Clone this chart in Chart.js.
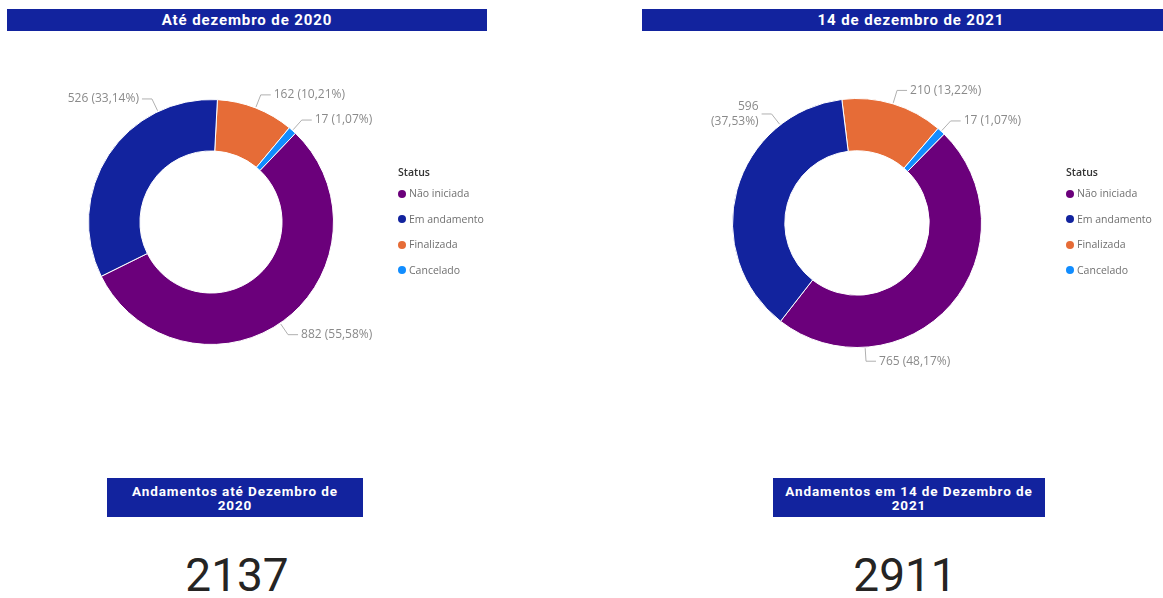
<!DOCTYPE html>
<html>
<head>
<meta charset="utf-8">
<script src="https://cdn.jsdelivr.net/npm/chart.js@4.4.1/dist/chart.umd.min.js"></script>
<style>
  html, body { margin: 0; padding: 0; background: #fff; }
  body { width: 1163px; height: 598px; position: relative; overflow: hidden; font-family: 'Segoe UI', 'Open Sans', sans-serif; }
  .bar { position: absolute; background: #12239e; color: #fff; font: 700 15px Roboto, sans-serif; letter-spacing: 0.9px; text-align: center; }
  .title { top: 9px; height: 22px; line-height: 22px; }
  .card-title { top: 478px; height: 39px; font-size: 13.5px; letter-spacing: 0.9px; line-height: 14px; display: flex; align-items: center; justify-content: center; }
  .num { position: absolute; top: 548px; font: 400 46px Roboto, sans-serif; color: #252423; text-align: center; }
  .wrap { position: absolute; }
  .legend { position: absolute; font-size: 10.5px; color: #707070; }
  .legend .head { color: #333; font-weight: 600; height: 20px; }
  .legend .item { height: 25.5px; line-height: 16px; white-space: nowrap; }
  .legend .dot { display: inline-block; width: 8px; height: 8px; border-radius: 50%; margin-right: 3px; vertical-align: -0.5px; }
</style>
</head>
<body>
<div class="bar title" style="left:7px; width:480px;">Até dezembro de 2020</div>
<div class="bar title" style="left:642px; width:538px;">14 de dezembro de 2021</div>

<div class="wrap" style="left:40px; top:60px; width:360px; height:330px;"><canvas id="chart2020"></canvas></div>
<div class="wrap" style="left:690px; top:60px; width:380px; height:330px;"><canvas id="chart2021"></canvas></div>

<div class="legend" id="legend2020" style="left:398px; top:165px;"></div>
<div class="legend" id="legend2021" style="left:1066px; top:165px;"></div>

<div class="bar card-title" style="left:107px; width:256px;">Andamentos até Dezembro de<br>2020</div>
<div class="bar card-title" style="left:773px; width:272px;">Andamentos em 14 de Dezembro de<br>2021</div>
<div class="num" id="num2020" style="left:137px; width:200px;"></div>
<div class="num" id="num2021" style="left:805px; width:200px;"></div>

<script>
// categories, in legend order
const statusLabels = ['Não iniciada', 'Em andamento', 'Finalizada', 'Cancelado'];
const statusColors = ['#6b007b', '#12239e', '#e66c37', '#118dff'];

// counts per status (legend order)
const values2020 = [882, 526, 162, 17];
const values2021 = [765, 596, 210, 17];

// card totals
const total2020 = 2137;
const total2021 = 2911;

// Power BI draws slices starting with Finalizada, then Cancelado, Não iniciada, Em andamento
const drawOrder = [2, 3, 0, 1];

// Outside labels with an elbow leader line, Power BI style
const leaderLabels = {
  id: 'leaderLabels',
  afterDatasetsDraw(chart, args, opts) {
    const { ctx } = chart;
    const meta = chart.getDatasetMeta(0);
    const data = chart.data.datasets[0].data;
    const total = data.reduce((a, b) => a + b, 0);
    ctx.save();
    ctx.font = opts.font;
    ctx.lineWidth = 1;
    ctx.textBaseline = 'middle';
    meta.data.forEach((arc, i) => {
      const { x, y, startAngle, endAngle, outerRadius } =
        arc.getProps(['x', 'y', 'startAngle', 'endAngle', 'outerRadius'], true);
      const a = startAngle + (endAngle - startAngle) * opts.anchor[i];
      const cos = Math.cos(a), sin = Math.sin(a);
      const x0 = x + cos * (outerRadius + 1), y0 = y + sin * (outerRadius + 1);
      const x1 = x + cos * (outerRadius + opts.ext), y1 = y + sin * (outerRadius + opts.ext);
      const right = cos >= 0;
      const x2 = x1 + (right ? opts.hor : -opts.hor);

      ctx.strokeStyle = opts.lineColor;
      ctx.beginPath();
      ctx.moveTo(x0, y0);
      ctx.lineTo(x1, y1);
      ctx.lineTo(x2, y1);
      ctx.stroke();

      const pct = (data[i] / total * 100).toFixed(2).replace('.', ',');
      let lines = [`${data[i]} (${pct}%)`];
      const tx = right ? x2 + opts.gap : x2 - opts.gap;
      // wrap onto two lines when the label would run past the visual's left edge
      if (!right && tx - ctx.measureText(lines[0]).width < 12) {
        lines = [`${data[i]}`, `(${pct}%)`];
      }
      ctx.fillStyle = opts.color;
      ctx.textAlign = right ? 'left' : 'right';
      const lh = 15;
      lines.forEach((t, k) => {
        ctx.fillText(t, tx, y1 + (k - (lines.length - 1) / 2) * lh);
      });
    });
    ctx.restore();
  }
};

function makeDonut(id, values, rotation, padding, anchor) {
  return new Chart(document.getElementById(id), {
    type: 'doughnut',
    data: {
      labels: drawOrder.map(k => statusLabels[k]),
      datasets: [{
        data: drawOrder.map(k => values[k]),
        backgroundColor: drawOrder.map(k => statusColors[k]),
        borderColor: '#ffffff',
        borderWidth: 1
      }]
    },
    options: {
      responsive: true,
      maintainAspectRatio: false,
      animation: false,
      cutout: '58%',
      rotation: rotation,
      layout: { padding: padding },
      plugins: {
        legend: { display: false },
        tooltip: { enabled: false },
        leaderLabels: {
          font: '12px "Segoe UI", "Open Sans", sans-serif',
          color: '#8a8a8a',
          lineColor: '#b0b0b0',
          ext: 14,
          hor: 10,
          gap: 3,
          anchor: anchor
        }
      }
    },
    plugins: [leaderLabels]
  });
}

function buildLegend(id) {
  const el = document.getElementById(id);
  let html = '<div class="head">Status</div>';
  statusLabels.forEach((name, i) => {
    html += `<div class="item"><span class="dot" style="background:${statusColors[i]}"></span>${name}</div>`;
  });
  el.innerHTML = html;
}

makeDonut('chart2020', values2020, 3, { left: 48, right: 66, top: 39, bottom: 45 }, [0.5, 0.5, 0.51, 0.76]);
makeDonut('chart2021', values2021, -7, { left: 42, right: 88, top: 38, bottom: 42 }, [0.5, 0.5, 0.76, 0.77]);

buildLegend('legend2020');
buildLegend('legend2021');

document.getElementById('num2020').textContent = total2020;
document.getElementById('num2021').textContent = total2021;
</script>
</body>
</html>
